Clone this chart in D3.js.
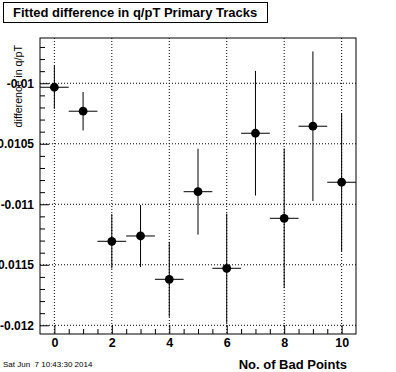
<!DOCTYPE html>
<html>
<head>
<meta charset="utf-8">
<script src="https://cdn.jsdelivr.net/npm/d3@7"></script>
<style>
  body { margin: 0; background: #fff; }
  text { font-family: "Liberation Sans", Arial, sans-serif; fill: #000; }
</style>
</head>
<body>
<div id="chart"></div>
<script>

// data
const badPoints = [0, 1, 2, 3, 4, 5, 6, 7, 8, 9, 10];
const qptDiff = [-0.010033, -0.010231, -0.011306, -0.011262, -0.01162, -0.010896,
                 -0.011529, -0.010413, -0.011116, -0.010355, -0.010818];
const qptErr = [0.000178, 0.000159, 0.000225, 0.000256, 0.00031, 0.000355,
                0.000452, 0.000515, 0.000577, 0.000618, 0.000569];

const xTicks = [0, 2, 4, 6, 8, 10];
const yTicks = [-0.01, -0.0105, -0.011, -0.0115, -0.012];
const yTickLabels = ["-0.01", "-0.0105", "-0.011", "-0.0115", "-0.012"];

const width = 396, height = 372;
const frame = {left: 40, right: 356, top: 38, bottom: 334};

const svg = d3.select("#chart")
    .append("svg")
    .attr("width", width)
    .attr("height", height);

const xScale = d3.scaleLinear()
    .domain([-0.5, 10.5])
    .range([frame.left, frame.right]);

const yScale = d3.scaleLinear()
    .domain([-0.012072, -0.009626])
    .range([frame.bottom, frame.top]);

// dotted grid
svg.append("g")
    .selectAll("line")
    .data(xTicks)
    .enter()
    .append("line")
    .attr("x1", d => xScale(d)).attr("x2", d => xScale(d))
    .attr("y1", frame.top).attr("y2", frame.bottom)
    .attr("stroke", "#000").attr("stroke-dasharray", "1,2");

svg.append("g")
    .selectAll("line")
    .data(yTicks)
    .enter()
    .append("line")
    .attr("x1", frame.left).attr("x2", frame.right)
    .attr("y1", d => yScale(d)).attr("y2", d => yScale(d))
    .attr("stroke", "#000").attr("stroke-dasharray", "1,2");

// minor ticks
const xMinor = d3.range(0, 10.01, 0.5).filter(v => !xTicks.includes(v));
svg.append("g")
    .attr("transform", `translate(0,${frame.bottom})`)
    .call(d3.axisBottom(xScale).tickValues(xMinor).tickSize(-5).tickFormat(""))
    .call(g => g.select(".domain").remove());

const yMinor = d3.range(-0.0120, -0.00965, 0.0001)
    .filter(v => !yTicks.some(t => Math.abs(t - v) < 1e-9));
svg.append("g")
    .attr("transform", `translate(${frame.left},0)`)
    .call(d3.axisLeft(yScale).tickValues(yMinor).tickSize(-5).tickFormat(""))
    .call(g => g.select(".domain").remove());

// major ticks + labels
svg.append("g")
    .attr("transform", `translate(0,${frame.bottom})`)
    .call(d3.axisBottom(xScale).tickValues(xTicks).tickSize(-9).tickPadding(4))
    .call(g => g.select(".domain").remove())
    .attr("font-family", "Liberation Sans, Arial, sans-serif")
    .attr("font-size", "12.5px")
    .attr("font-weight", "bold");

svg.append("g")
    .attr("transform", `translate(${frame.left},0)`)
    .call(d3.axisLeft(yScale).tickValues(yTicks).tickSize(-9).tickPadding(6)
        .tickFormat((d, i) => yTickLabels[i]))
    .call(g => g.select(".domain").remove())
    .attr("font-family", "Liberation Sans, Arial, sans-serif")
    .attr("font-size", "12px")
    .attr("font-weight", "bold");

svg.selectAll(".tick line").attr("stroke", "#000");

// frame
svg.append("rect")
    .attr("x", frame.left).attr("y", frame.top)
    .attr("width", frame.right - frame.left)
    .attr("height", frame.bottom - frame.top)
    .attr("fill", "none").attr("stroke", "#000");

// error bars and markers
const pts = badPoints.map((b, i) => ({x: b, y: qptDiff[i], e: qptErr[i]}));

const bars = svg.append("g").attr("stroke", "#000");
bars.selectAll(".vbar")
    .data(pts)
    .enter()
    .append("line")
    .attr("class", "vbar")
    .attr("x1", d => xScale(d.x)).attr("x2", d => xScale(d.x))
    .attr("y1", d => yScale(d.y + d.e)).attr("y2", d => yScale(d.y - d.e));
bars.selectAll(".hbar")
    .data(pts)
    .enter()
    .append("line")
    .attr("class", "hbar")
    .attr("x1", d => xScale(d.x - 0.5)).attr("x2", d => xScale(d.x + 0.5))
    .attr("y1", d => yScale(d.y)).attr("y2", d => yScale(d.y));

svg.selectAll("circle")
    .data(pts)
    .enter()
    .append("circle")
    .attr("cx", d => xScale(d.x))
    .attr("cy", d => yScale(d.y))
    .attr("r", 4.4)
    .attr("fill", "#000");

// title box
svg.append("rect")
    .attr("x", 3.5).attr("y", 2.5)
    .attr("width", 264).attr("height", 20)
    .attr("fill", "#fff").attr("stroke", "#000");
svg.append("text")
    .attr("x", 13).attr("y", 17)
    .attr("font-size", "13px")
    .attr("font-weight", "bold")
    .text("Fitted difference in q/pT Primary Tracks");

// axis titles
svg.append("text")
    .attr("text-anchor", "end")
    .attr("transform", "translate(22,45) rotate(-90)")
    .attr("font-size", "10.7px")
    .text("difference in q/pT");

svg.append("text")
    .attr("x", 347).attr("y", 369)
    .attr("text-anchor", "end")
    .attr("font-size", "13px")
    .attr("font-weight", "bold")
    .text("No. of Bad Points");

// date stamp
svg.append("text")
    .attr("x", 3).attr("y", 367)
    .attr("font-size", "8px")
    .text("Sat Jun  7 10:43:30 2014")
    .attr("xml:space", "preserve")
    .style("white-space", "pre");

</script>
</body>
</html>
